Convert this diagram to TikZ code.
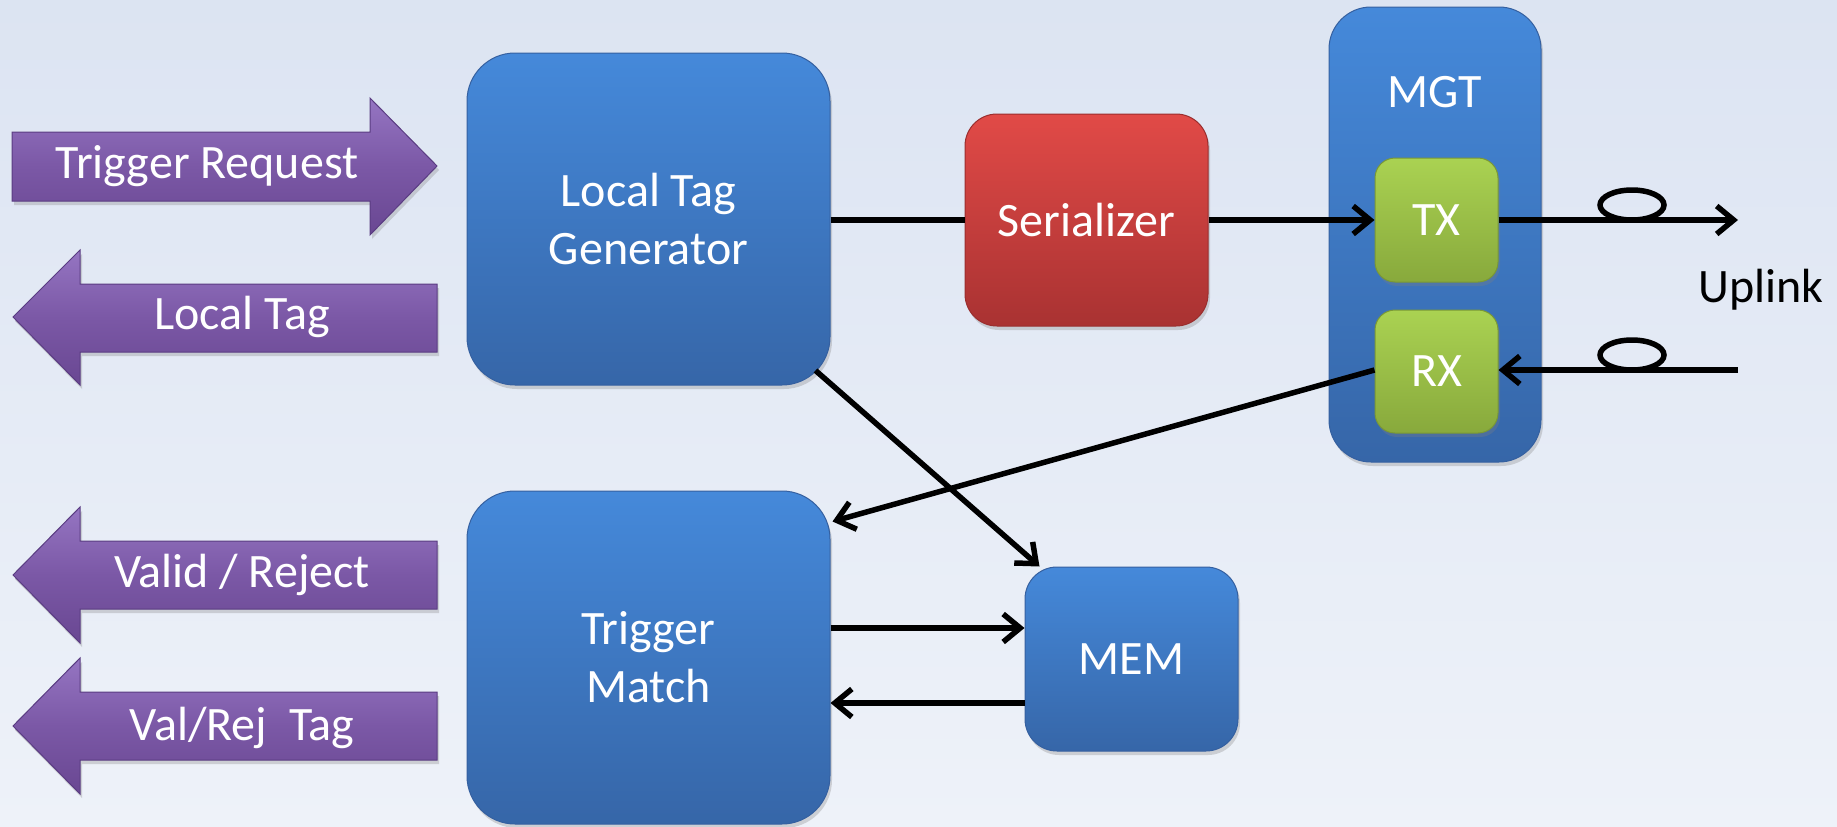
\documentclass[tikz,border=0pt]{standalone}
\usepackage{fontspec}
\setmainfont{Carlito}
\usetikzlibrary{arrows.meta,shadows,calc}
\definecolor{bgtop}{HTML}{DCE4F2}
\definecolor{bgbot}{HTML}{EEF2F9}
\definecolor{bluetop}{HTML}{4589DA}
\definecolor{bluebot}{HTML}{3666A8}
\definecolor{blueedge}{HTML}{3560A0}
\definecolor{redtop}{HTML}{E14A47}
\definecolor{redbot}{HTML}{A93232}
\definecolor{rededge}{HTML}{9A2E2E}
\definecolor{greentop}{HTML}{AAD252}
\definecolor{greenbot}{HTML}{88A93C}
\definecolor{greenedge}{HTML}{7A9836}
\definecolor{purptop}{HTML}{9575C2}
\definecolor{purpmid}{HTML}{7B58A6}
\definecolor{purpbot}{HTML}{694792}
\definecolor{purpedge}{HTML}{5A3C82}
\tikzset{
  x=1pt, y=-1pt,
  shadowed/.style={drop shadow={opacity=0.3, shadow xshift=2pt, shadow yshift=-4pt}},
  blockbase/.style={shadowed, inner sep=0pt, align=center, text=white,
    font=\fontsize{48}{58}\selectfont, line width=1pt},
  bluebox/.style={blockbase, top color=bluetop, bottom color=bluebot, draw=blueedge},
  redbox/.style={blockbase, top color=redtop, bottom color=redbot, draw=rededge},
  greenbox/.style={blockbase, top color=greentop, bottom color=greenbot, draw=greenedge},
  parrow/.style={shadowed, top color=purptop, bottom color=purpbot, middle color=purpmid, draw=purpedge, line width=1pt},
  ptext/.style={text=white, font=\fontsize{48}{58}\selectfont, inner sep=0pt},
  wire/.style={line width=5.5pt, black},
  tip/.style={-{Straight Barb[length=17pt,width=28pt]}},
  loopstyle/.style={line width=5.5pt, black},
}
\begin{document}
\begin{tikzpicture}
\useasboundingbox (0,0) rectangle (1837,827);
\fill[top color=bgtop, bottom color=bgbot] (0,0) rectangle (1837,827);

% purple arrows
\path[parrow] (12,132) -- (370,132) -- (370,98) -- (437,166) -- (370,235) -- (370,201) -- (12,201) -- cycle;
\node[ptext] (treq) at (207,166) {Trigger Request};
\path[parrow] (437,284) -- (80,284) -- (80,250) -- (13,317) -- (80,385) -- (80,352) -- (437,352) -- cycle;
\node[ptext] (ltag) at (242,317) {Local Tag};
\path[parrow] (437,541) -- (80,541) -- (80,507) -- (13,575) -- (80,643) -- (80,609) -- (437,609) -- cycle;
\node[ptext] (vrej) at (242,575) {Valid / Reject};
\path[parrow] (437,692) -- (80,692) -- (80,658) -- (13,726) -- (80,794) -- (80,760) -- (437,760) -- cycle;
\node[ptext] (vrtag) at (242,728) {Val/Rej\ \ Tag};

% blocks
\node[bluebox, rounded corners=48pt, minimum width=363pt, minimum height=332pt] (ltg) at (648.5,219) {Local Tag\\Generator};
\node[bluebox, rounded corners=48pt, minimum width=363pt, minimum height=333pt] (tm) at (648.5,657.5) {Trigger\\Match};
\node[redbox, rounded corners=32pt, minimum width=243pt, minimum height=212pt] (ser) at (1086.5,220) {Serializer};
\node[bluebox, rounded corners=42pt, minimum width=212pt, minimum height=455pt] (mgt) at (1435,234.5) {};
\node[text=white, font=\fontsize{48}{58}\selectfont, inner sep=0pt] (mgtl) at (1435,92) {MGT};
\node[greenbox, rounded corners=20pt, minimum width=123pt, minimum height=124pt] (tx) at (1436.5,220) {TX};
\node[greenbox, rounded corners=20pt, minimum width=123pt, minimum height=123pt] (rx) at (1436.5,371.5) {RX};
\node[bluebox, rounded corners=32pt, minimum width=213pt, minimum height=184pt] (mem) at (1131.5,659) {MEM};
\node[font=\fontsize{48}{58}\selectfont, inner sep=0pt] (uplink) at (1761,290) {Uplink};

\coordinate (txout) at (1738,220);
\coordinate (rxin) at (1738,370);

% connectors
\draw[wire] (ltg.east |- ser.west) -- (ser.west);
\draw[wire, tip] (ser.east) -- (tx.west);
\draw[wire, tip] (tx.east) -- (txout);
\draw[wire, tip] (rxin) -- (rx.east |- rxin);
\draw[wire, tip] (rx.west |- rxin) -- ($(tm.north east)+(2,31)$);
\draw[wire, tip] ($(ltg.south east)+(-15,-15)$) -- ($(mem.north west)+(15,0)$);
\draw[wire, tip] (tm.east |- 0,628) -- (mem.west |- 0,628);
\draw[wire, tip] (mem.west |- 0,703) -- (tm.east |- 0,703);

% fiber loops
\draw[loopstyle] (1632,205) ellipse [x radius=32, y radius=15];
\draw[loopstyle] (1632,355) ellipse [x radius=32, y radius=15];
\end{tikzpicture}
\end{document}
